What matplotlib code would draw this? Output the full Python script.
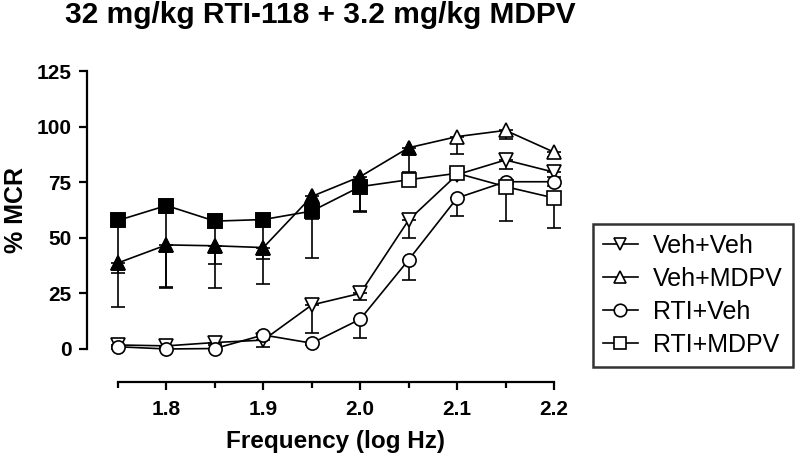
import numpy as np
import matplotlib
matplotlib.use('Agg')
import matplotlib.pyplot as plt
from matplotlib.lines import Line2D

# log Hz frequencies
freq = [1.75, 1.80, 1.85, 1.90, 1.95, 2.00, 2.05, 2.10, 2.15, 2.20]

# % MCR
veh_veh = [1.8, 1.4, 2.9, 4.0, 19.8, 25.0, 58.0, 78.4, 85.0, 79.5]
veh_mdpv = [38.7, 46.8, 46.4, 45.6, 68.6, 77.5, 90.5, 95.5, 98.3, 88.5]
rti_veh = [1.0, 0.0, 0.2, 6.3, 2.6, 13.4, 40.1, 67.9, 75.2, 75.2]
rti_mdpv = [57.8, 64.5, 57.5, 58.2, 62.0, 73.0, 76.1, 79.0, 73.0, 67.9]

# lower SEM (bars only drawn downwards)
veh_veh_err = [1.0, 0.5, 1.0, 3.0, 12.5, 3.0, 8.0, 2.0, 4.0, 2.0]
veh_mdpv_err = [4.5, 19.0, 8.0, 5.0, 10.0, 16.0, 11.0, 8.0, 4.0, 2.0]
rti_veh_err = [1.0, 0.5, 0.5, 1.0, 1.0, 8.6, 9.0, 8.0, 2.0, 2.0]
rti_mdpv_err = [39.0, 37.0, 30.0, 29.0, 21.0, 11.0, 3.0, 2.0, 15.5, 13.5]

# filled symbol = significant
veh_mdpv_sig = [1, 1, 1, 1, 1, 1, 1, 0, 0, 0]
rti_mdpv_sig = [1, 1, 1, 1, 1, 1, 0, 0, 0, 0]

series = [
    ('Veh+Veh', veh_veh, veh_veh_err, 'v', None),
    ('Veh+MDPV', veh_mdpv, veh_mdpv_err, '^', veh_mdpv_sig),
    ('RTI+Veh', rti_veh, rti_veh_err, 'o', None),
    ('RTI+MDPV', rti_mdpv, rti_mdpv_err, 's', rti_mdpv_sig),
]

plain = ['Liberation Sans', 'DejaVu Sans']
plt.rcParams['font.family'] = plain

fig = plt.figure(figsize=(8, 4.59), dpi=100)
ax = fig.add_axes([0.1475, 0.2397, 0.545, 0.6056])

x = np.array(freq)
handles = []
for name, y, err, mk, sig in series:
    y = np.array(y)
    lower = np.array(err)
    ax.errorbar(x, y, yerr=[lower, np.zeros_like(lower)], fmt='none',
                ecolor='black', elinewidth=1.2, capsize=5, capthick=1.2,
                clip_on=False, zorder=2)
    ax.plot(x, y, color='black', lw=1.2, marker=mk, ms=9.5,
            mfc='white', mec='black', mew=1.2, clip_on=False, zorder=3)
    if sig is not None:
        s = np.array(sig, dtype=bool)
        ax.plot(x[s], y[s], ls='none', marker=mk, ms=9.5, mfc='black',
                mec='black', mew=1.2, clip_on=False, zorder=4)
    handles.append(Line2D([], [], color='black', lw=1.2, marker=mk, ms=9,
                          mfc='white', mec='black', mew=1.2, label=name))

ax.set_xlim(1.75, 2.2)
ax.set_ylim(0, 125)
ax.set_xticks([1.8, 1.9, 2.0, 2.1, 2.2])
ax.set_xticks([1.75, 1.85, 1.95, 2.05, 2.15], minor=True)
ax.set_xticklabels(['1.8', '1.9', '2.0', '2.1', '2.2'])
ax.set_yticks([0, 25, 50, 75, 100, 125])

for sp in ['top', 'right']:
    ax.spines[sp].set_visible(False)
ax.spines['left'].set_position(('outward', 22.5))
ax.spines['bottom'].set_position(('outward', 24))
ax.spines['left'].set_linewidth(1.6)
ax.spines['bottom'].set_linewidth(1.6)
ax.tick_params(axis='both', which='major', length=6, width=1.6, pad=5)
ax.tick_params(axis='x', which='minor', length=4, width=1.6)
ax.tick_params(axis='x', which='major', pad=7)
for lab in ax.get_xticklabels() + ax.get_yticklabels():
    lab.set_fontweight('bold')
    lab.set_fontsize(15)

ax.set_xlabel('Frequency (log Hz)', fontsize=17.5, fontweight='bold',
              labelpad=8)
ax.set_ylabel('% MCR', fontsize=18, fontweight='bold', labelpad=6)

fig.text(0.081, 0.95, '32 mg/kg RTI-118 + 3.2 mg/kg MDPV', fontsize=21.5,
         fontweight='bold', ha='left', va='baseline')

leg = fig.legend(handles=handles, loc='upper left',
                 bbox_to_anchor=(0.741, 0.512), frameon=True, fancybox=False,
                 edgecolor='black', fontsize=18, handlelength=1.4,
                 handletextpad=0.6, labelspacing=0.36, borderpad=0.4,
                 borderaxespad=0)
leg.get_frame().set_linewidth(1.8)

fig.savefig('out.png', dpi=100)
